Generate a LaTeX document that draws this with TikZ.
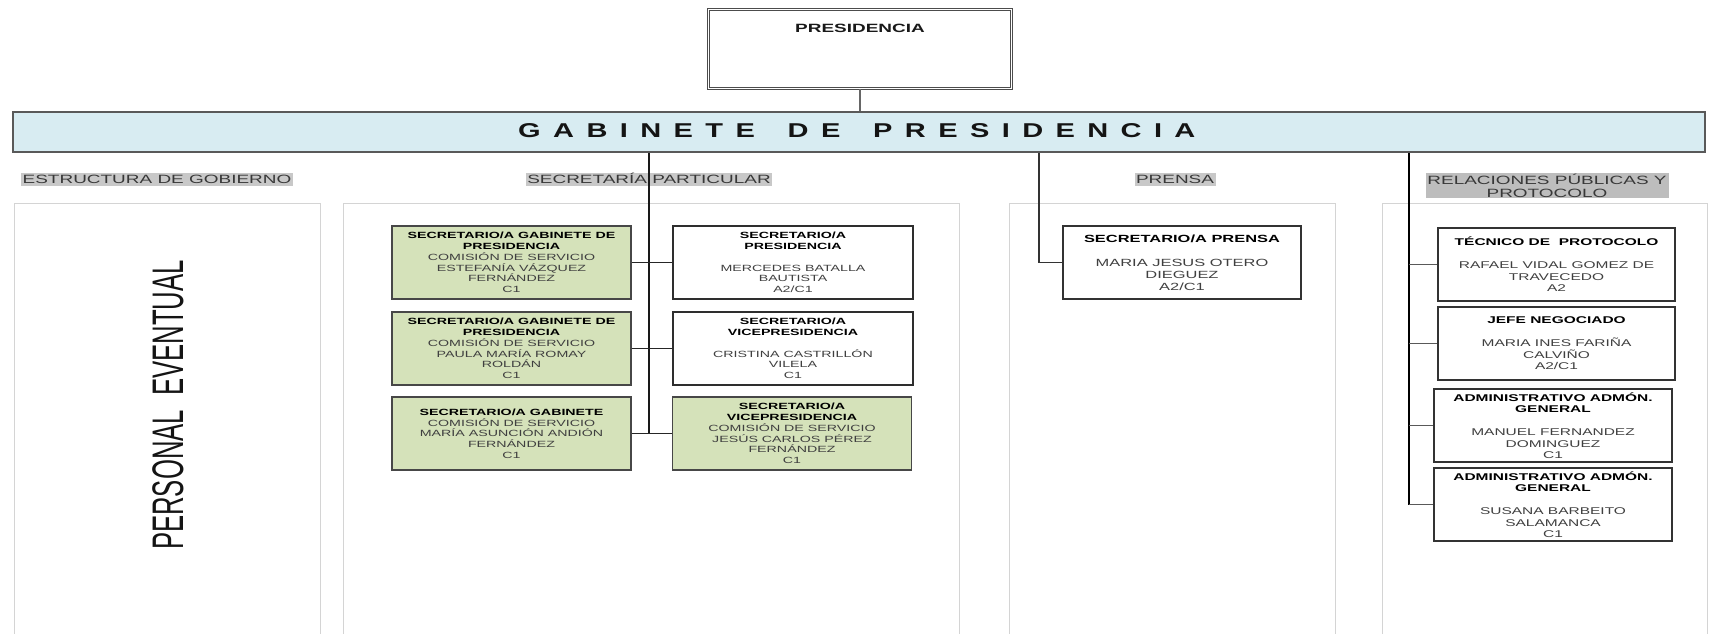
\documentclass[tikz,border=0pt]{standalone}
\usepackage{fontspec}
\setmainfont{Liberation Sans}[FakeStretch=1.58]
\newfontfamily\plainsans{Liberation Sans}
\newfontfamily\gabfont{Liberation Sans}[FakeStretch=1.45]
\definecolor{barblue}{HTML}{D8ECF2}
\definecolor{boxgreen}{HTML}{D5E2BA}
\definecolor{hlgray}{HTML}{C8C8C8}
\definecolor{hldark}{HTML}{BDBDBD}
\definecolor{txtgray}{HTML}{404040}
\definecolor{colgray}{HTML}{D4D4D4}
\newcommand\bxt[1]{{\color{black}\bfseries #1}}
\newcommand\gabsp{\hspace{12.4pt}}
\begin{document}
\begin{tikzpicture}[x=1pt,y=-1pt,
  colbox/.style={draw=colgray, line width=0.9pt, inner sep=0pt},
  basebox/.style={inner sep=0pt, align=center, text=txtgray, minimum height=73pt},
  greenbox/.style={basebox, fill=boxgreen, draw=black!72, line width=1.4pt, minimum width=239pt, font=\fontsize{9}{10.7}\selectfont},
  whitebox/.style={basebox, fill=white, draw=black!82, line width=1.2pt, minimum width=240pt, font=\fontsize{9}{10.7}\selectfont},
  rbox/.style={basebox, fill=white, draw=black!80, line width=1.3pt, minimum width=238pt, font=\fontsize{9.8}{11.5}\selectfont},
  hdr/.style={fill=hlgray, text=black!78, font=\fontsize{12}{12.8}\selectfont, inner xsep=1.5pt, inner ysep=0pt, text height=9.8pt, text depth=3pt},
  sconn/.style={draw=black!90, line width=1.3pt},
  hconn/.style={draw=black!85, line width=1.2pt},
  rconn/.style={draw=black, line width=2.6pt},
  rhconn/.style={draw=black!65, line width=1.3pt}
]
\useasboundingbox (0,0) rectangle (1715,634);
\clip (0,0) rectangle (1715,634);
\fill[white] (0,0) rectangle (1715,634);

% column frames
\node[colbox, minimum width=306pt, minimum height=450pt] (c1) at (167,428) {};
\node[colbox, minimum width=616pt, minimum height=450pt] (c2) at (651,428) {};
\node[colbox, minimum width=326pt, minimum height=450pt] (c3) at (1172,428) {};
\node[colbox, minimum width=325pt, minimum height=450pt] (c4) at (1544.5,428) {};

% top
\node[draw=black!70, double=white, double distance=1.5pt, line width=0.7pt, minimum width=303pt, minimum height=79pt, inner sep=0pt] (pres) at (860,49) {};
\node[font=\bfseries\fontsize{12}{14}\selectfont, inner sep=0pt, text=black!90] (prestitle) at (860,28) {PRESIDENCIA};
\node[fill=barblue, draw=black!65, line width=1.5pt, minimum width=1692pt, minimum height=40pt, inner sep=0pt] (bar) at (859,132) {};
\node[font=\gabfont\bfseries\fontsize{20}{22}\selectfont, anchor=west, inner sep=0pt, text=black!92] (gabtxt) at (518,130.5)
  {G\gabsp A\gabsp B\gabsp I\gabsp N\gabsp E\gabsp T\gabsp E\gabsp\ \gabsp D\gabsp E\gabsp\ \gabsp P\gabsp R\gabsp E\gabsp S\gabsp I\gabsp D\gabsp E\gabsp N\gabsp C\gabsp I\gabsp A};
\draw[draw=black!60, line width=1.5pt] (pres.south) -- (pres.south |- bar.north);

% headers
\node[hdr, anchor=base west] (h1) at (21,183) {ESTRUCTURA DE GOBIERNO};
\node[hdr, anchor=base] (h2) at (649,183) {SECRETARÍA PARTICULAR};
\node[hdr, anchor=base] (h3) at (1175,183) {PRENSA};
\node[fill=hldark, text=black!78, font=\fontsize{12}{12.8}\selectfont, align=center, inner sep=0pt, minimum width=243pt, minimum height=25pt] (h4) at (1547,185.5) {RELACIONES PÚBLICAS Y\\PROTOCOLO};

% personal eventual
\node[rotate=90, inner sep=0pt, text=black!92] (pe) at (168,405)
  {\scalebox{1}[1.72]{\plainsans\fontsize{25.7}{30}\selectfont PERSONAL\ \ EVENTUAL}};

% secretaria boxes
\node[greenbox] (L1) at (511.5,262.5) {\bxt{SECRETARIO/A GABINETE DE}\\\bxt{PRESIDENCIA}\\COMISIÓN DE SERVICIO\\ESTEFANÍA VÁZQUEZ\\FERNÁNDEZ\\C1};
\node[greenbox] (L2) at (511.5,348.5) {\bxt{SECRETARIO/A GABINETE DE}\\\bxt{PRESIDENCIA}\\COMISIÓN DE SERVICIO\\PAULA MARÍA ROMAY\\ROLDÁN\\C1};
\node[greenbox] (L3) at (511.5,433.5) {\bxt{SECRETARIO/A GABINETE}\\COMISIÓN DE SERVICIO\\MARÍA ASUNCIÓN ANDIÓN\\FERNÁNDEZ\\C1};
\node[whitebox] (R1) at (793,262.5) {\bxt{SECRETARIO/A}\\\bxt{PRESIDENCIA}\\[10.7pt]MERCEDES BATALLA\\BAUTISTA\\A2/C1};
\node[whitebox] (R2) at (793,348.5) {\bxt{SECRETARIO/A}\\\bxt{VICEPRESIDENCIA}\\[10.7pt]CRISTINA CASTRILLÓN\\VILELA\\C1};
\node[greenbox] (R3) at (792,433.5) {\bxt{SECRETARIO/A}\\\bxt{VICEPRESIDENCIA}\\COMISIÓN DE SERVICIO\\JESÚS CARLOS PÉREZ\\FERNÁNDEZ\\C1};

% prensa
\node[rbox, font=\fontsize{10.4}{12}\selectfont] (P1) at (1182,262.5) {\bxt{SECRETARIO/A PRENSA}\\[12pt]MARIA JESUS OTERO\\DIEGUEZ\\A2/C1};

% relaciones
\node[rbox, minimum width=237pt] (Q1) at (1556.5,264.5) {\bxt{TÉCNICO DE~~PROTOCOLO}\\[11.5pt]RAFAEL VIDAL GOMEZ DE\\TRAVECEDO\\A2};
\node[rbox, minimum width=237pt] (Q2) at (1556.5,343.5) {\bxt{JEFE NEGOCIADO}\\[11.5pt]MARIA INES FARIÑA\\CALVIÑO\\A2/C1};
\node[rbox] (Q3) at (1553,425.5) {\bxt{ADMINISTRATIVO ADMÓN.}\\\bxt{GENERAL}\\[11.5pt]MANUEL FERNANDEZ\\DOMINGUEZ\\C1};
\node[rbox] (Q4) at (1553,504.5) {\bxt{ADMINISTRATIVO ADMÓN.}\\\bxt{GENERAL}\\[11.5pt]SUSANA BARBEITO\\SALAMANCA\\C1};

% connectors
\coordinate (sk) at (649,0);
\coordinate (pk) at (1039,0);
\coordinate (rk) at (1409,0);
\draw[sconn] (bar.south -| sk) -- (sk |- L3.east);
\draw[hconn] (L1.east) -- (R1.west);
\draw[hconn] (L2.east) -- (R2.west);
\draw[hconn] (L3.east) -- (R3.west);
\draw[draw=black!80, line width=1.5pt] (bar.south -| pk) |- (P1.west);
\draw[rconn] (bar.south -| rk) -- (rk |- Q4.west);
\draw[rhconn] (rk |- Q1.west) -- (Q1.west);
\draw[rhconn] (rk |- Q2.west) -- (Q2.west);
\draw[rhconn] (rk |- Q3.west) -- (Q3.west);
\draw[rhconn] (rk |- Q4.west) -- (Q4.west);
\end{tikzpicture}
\end{document}
